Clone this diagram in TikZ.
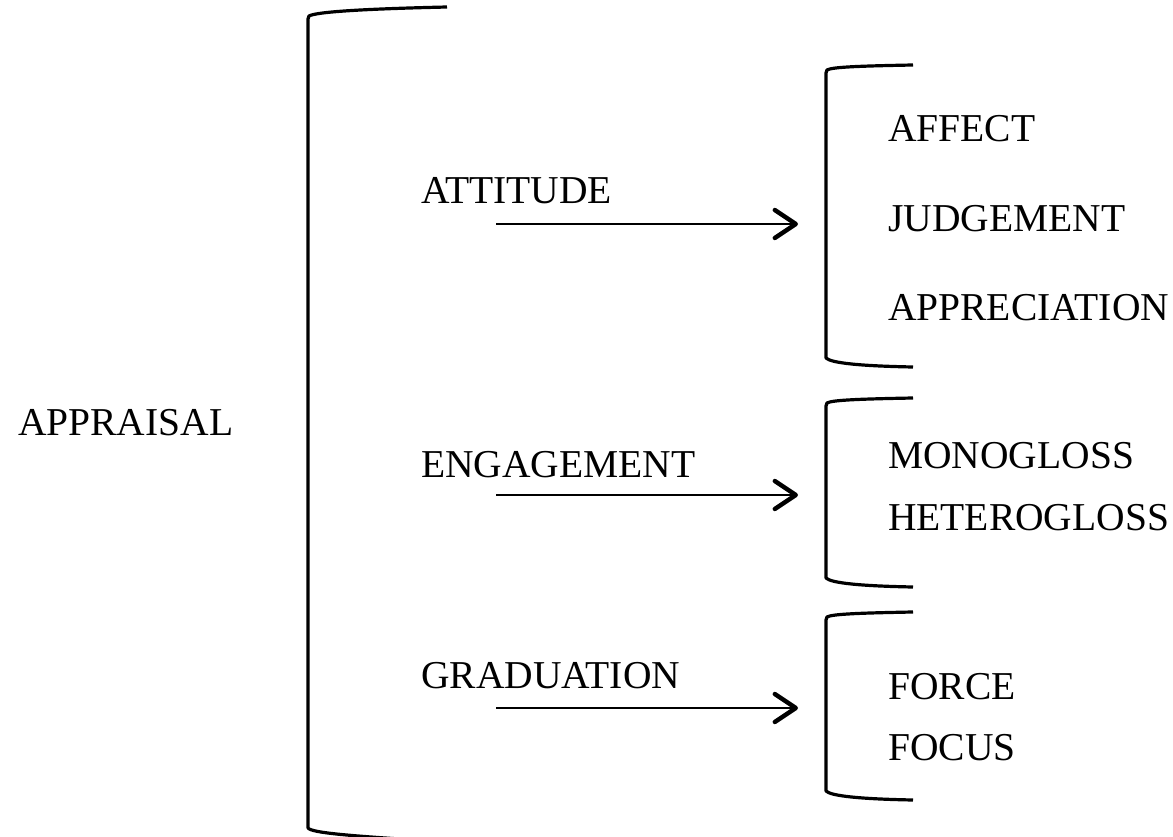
\documentclass[tikz,border=0pt]{standalone}
\usepackage{fontspec}
\setmainfont{Liberation Serif}
\usetikzlibrary{arrows.meta}
\begin{document}
\begin{tikzpicture}[x=1pt,y=-1pt,
  lbl/.style={anchor=base west,inner sep=0pt,font=\fontsize{39.5}{47}\selectfont},
  brk/.style={line width=3.2pt,line join=round},
  arr/.style={line width=2.8pt,-{Straight Barb[length=21pt,width=28pt,line width=4.4pt,round]}}]
\useasboundingbox (0,0) rectangle (1173,837);
% labels
\node[lbl] (appraisal) at (18,435) {APPRAISAL};
\node[lbl] (attitude) at (421,204) {ATTITUDE};
\node[lbl] (engagement) at (421,477) {ENGAGEMENT};
\node[lbl] (graduation) at (421,688) {GRADUATION};
\node[lbl] (affect) at (888,142) {AFFECT};
\node[lbl] (judgement) at (888,232) {JUDGEMENT};
\node[lbl] (appreciation) at (888,320) {APPRECIATION};
\node[lbl] (monogloss) at (888,468) {MONOGLOSS};
\node[lbl] (heterogloss) at (888,530) {HETEROGLOSS};
\node[lbl] (force) at (888,699) {FORCE};
\node[lbl] (focus) at (888,760) {FOCUS};
% big bracket
\draw[brk] (447,7) .. controls (360,9) and (316,12) .. (309,16) -- (308,19) -- (308,828)
  .. controls (312,833) and (350,836) .. (447,842);
% small brackets
\draw[brk] (913,65) .. controls (860,66) and (832,67) .. (827,70) -- (826,73) -- (826,358)
  .. controls (831,363) and (860,366) .. (913,367);
\draw[brk] (913,398) .. controls (860,399) and (832,400) .. (827,403) -- (826,406) -- (826,578)
  .. controls (831,583) and (860,586) .. (913,587);
\draw[brk] (913,612) .. controls (860,613) and (832,614) .. (827,617) -- (826,620) -- (826,791)
  .. controls (831,796) and (860,799) .. (913,800);
% arrows
\coordinate (a1s) at (496,224); \coordinate (a1e) at (798,224);
\coordinate (a2s) at (496,495); \coordinate (a2e) at (798,495);
\coordinate (a3s) at (496,708); \coordinate (a3e) at (798,708);
\draw[arr] (a1s) -- (a1e);
\draw[arr] (a2s) -- (a2e);
\draw[arr] (a3s) -- (a3e);
\end{tikzpicture}
\end{document}
